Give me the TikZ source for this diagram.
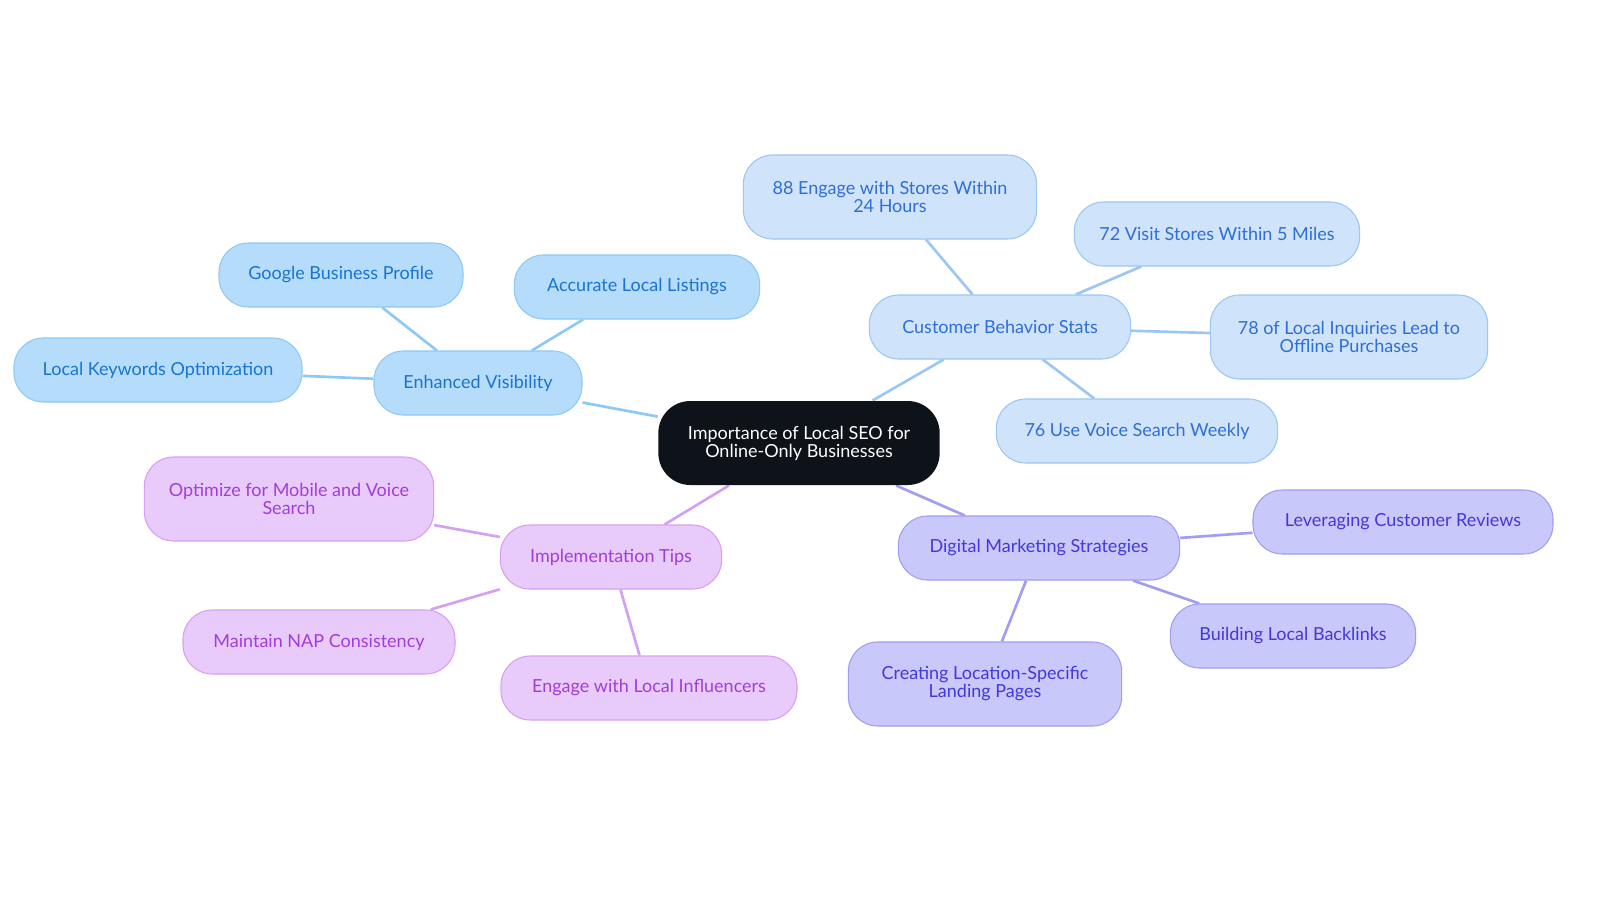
\documentclass[tikz,border=0pt]{standalone}
\usepackage{fontspec}
\setmainfont{Lato}
\usetikzlibrary{backgrounds}
\definecolor{bfill}{HTML}{B5DDFB}\definecolor{btext}{HTML}{1A74CF}\definecolor{bline}{HTML}{8EC8F5}
\definecolor{lfill}{HTML}{CFE3FB}\definecolor{ltext}{HTML}{2F6ED6}\definecolor{lline}{HTML}{9CC6F3}
\definecolor{pfill}{HTML}{C8C9FA}\definecolor{ptext}{HTML}{4338D9}\definecolor{pline}{HTML}{A09DF2}
\definecolor{vfill}{HTML}{E8CAFB}\definecolor{vtext}{HTML}{A23ED8}\definecolor{vline}{HTML}{D6A0F2}
\definecolor{cfill}{HTML}{0E1319}
\begin{document}
\begin{tikzpicture}[x=0.75pt,y=-0.75pt,
 box/.style={rounded corners=22pt,minimum height=48pt,align=center,font=\fontsize{13.5}{13.5}\selectfont,line width=0.8pt,inner sep=2pt},
 tall/.style={minimum height=63pt},
 B/.style={box,fill=bfill,draw=bline,text=btext},
 L/.style={box,fill=lfill,draw=lline,text=ltext},
 P/.style={box,fill=pfill,draw=pline,text=ptext},
 V/.style={box,fill=vfill,draw=vline,text=vtext},
 e/.style={line width=2pt}]
\node[box,tall,fill=cfill,text=white,minimum width=211pt,rounded corners=24pt] (c) at (799,443) {Importance of Local SEO for\\Online-Only Businesses};
\node[B,minimum width=156pt] (ev) at (478,383) {Enhanced Visibility};
\node[B,minimum width=183pt] (gb) at (341,275) {Google Business Profile};
\node[B,minimum width=184pt] (al) at (637,287) {Accurate Local Listings};
\node[B,minimum width=216pt] (lk) at (158,370) {Local Keywords Optimization};
\node[L,minimum width=196pt] (cb) at (1000,327) {Customer Behavior Stats};
\node[L,tall,minimum width=220pt] (s88) at (890,197) {88 Engage with Stores Within\\24 Hours};
\node[L,minimum width=214pt] (s72) at (1217,234) {72 Visit Stores Within 5 Miles};
\node[L,tall,minimum width=208pt] (s78) at (1349,337) {78 of Local Inquiries Lead to\\Offline Purchases};
\node[L,minimum width=211pt] (s76) at (1137,431) {76 Use Voice Search Weekly};
\node[P,minimum width=211pt] (dm) at (1039,548) {Digital Marketing Strategies};
\node[P,minimum width=225pt] (lr) at (1403,522) {Leveraging Customer Reviews};
\node[P,minimum width=184pt] (bl) at (1293,636) {Building Local Backlinks};
\node[P,tall,minimum width=205pt] (cl) at (985,684) {Creating Location-Specific\\Landing Pages};
\node[V,minimum width=166pt] (it) at (611,557) {Implementation Tips};
\node[V,tall,minimum width=217pt] (om) at (289,499) {Optimize for Mobile and Voice\\Search};
\node[V,minimum width=204pt] (mn) at (319,642) {Maintain NAP Consistency};
\node[V,minimum width=222pt] (ei) at (649,688) {Engage with Local Influencers};
\begin{scope}[on background layer]
\draw[e,bline] (c)--(ev) (ev)--(gb) (ev)--(al) (ev)--(lk);
\draw[e,lline] (c)--(cb) (cb)--(s88) (cb)--(s72) (cb)--(s78) (cb)--(s76);
\draw[e,pline] (c)--(dm) (dm)--(lr) (dm)--(bl) (dm)--(cl);
\draw[e,vline] (c)--(it) (it)--(om) (it)--(mn) (it)--(ei);
\end{scope}
\pgfresetboundingbox
\useasboundingbox (0,0) rectangle (1600,903);
\end{tikzpicture}
\end{document}
